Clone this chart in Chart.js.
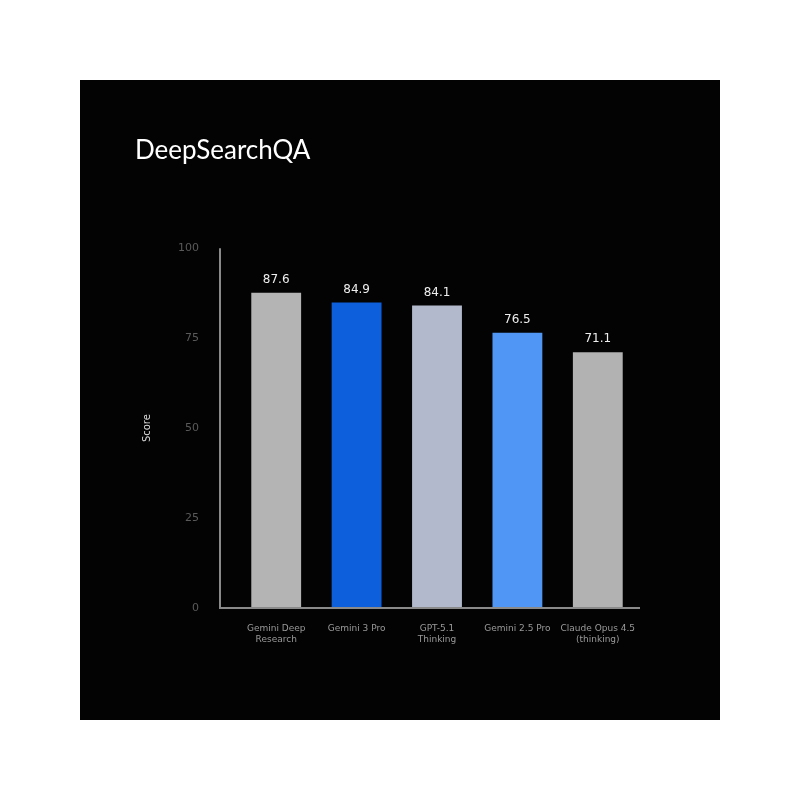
<!DOCTYPE html>
<html>
<head>
<meta charset="utf-8">
<script src="https://cdn.jsdelivr.net/npm/chart.js@4"></script>
<style>
  html, body { margin: 0; padding: 0; background: #ffffff; }
  #panel { position: absolute; left: 80px; top: 80px; width: 640px; height: 640px; background: #030303; }
  #myChart { display: block; }
</style>
</head>
<body>
<div id="panel"><canvas id="myChart" width="640" height="640"></canvas></div>
<script>
let models = [
    ["Gemini Deep", "Research"],
    "Gemini 3 Pro",
    ["GPT-5.1", "Thinking"],
    "Gemini 2.5 Pro",
    ["Claude Opus 4.5", "(thinking)"]
];
let scores = [87.6, 84.9, 84.1, 76.5, 71.1];
let yTicks = [0, 25, 50, 75, 100];

let colors = [
    "#b4b4b4",
    "#0d5fdc",
    "#b3b9cc",
    "#4f96f5",
    "#b2b2b2"
];

// values drawn above every bar
let valueLabels = {
    id: 'valueLabels',
    afterDatasetsDraw(chart) {
        let ctx = chart.ctx;
        let meta = chart.getDatasetMeta(0);
        ctx.save();
        ctx.fillStyle = '#eeeeee';
        ctx.font = '12px "DejaVu Sans"';
        ctx.textAlign = 'center';
        ctx.textBaseline = 'bottom';
        meta.data.forEach(function (bar, i) {
            ctx.fillText(scores[i].toFixed(1), bar.x, bar.y - 7);
        });
        ctx.restore();
    }
};

// axis lines sit a little left of the first bar slot
let axisLines = {
    id: 'axisLines',
    afterDraw(chart) {
        let a = chart.chartArea;
        let ctx = chart.ctx;
        let left = a.left - 16;
        ctx.save();
        ctx.strokeStyle = '#8a8a8a';
        ctx.lineWidth = 2;
        ctx.beginPath();
        ctx.moveTo(left, a.top);
        ctx.lineTo(left, a.bottom);
        ctx.lineTo(a.right + 2, a.bottom);
        ctx.stroke();
        ctx.restore();
    }
};

let canvas = document.getElementById("myChart")
let ctx = canvas.getContext("2d")

let myChart = new Chart(ctx, {
    type: 'bar',
    data: {
        labels: models,
        datasets: [{
            data: scores,
            backgroundColor: colors,
            borderWidth: 0,
            barPercentage: 0.62,
            categoryPercentage: 1.0
        }]
    },
    options: {
        responsive: false,
        animation: false,
        layout: { padding: { left: 55, right: 82, top: 55, bottom: 0 } },
        plugins: {
            legend: { display: false },
            tooltip: { enabled: false },
            title: {
                display: true,
                text: 'DeepSearchQA',
                align: 'start',
                color: '#ffffff',
                font: { family: 'Lato', size: 26, weight: 'normal' },
                padding: { top: 0, bottom: 82 }
            }
        },
        scales: {
            x: {
                grid: { display: false },
                border: { display: false },
                ticks: {
                    color: '#9a9a9a',
                    font: { family: 'DejaVu Sans', size: 9 },
                    maxRotation: 0,
                    padding: 7
                },
                afterFit(scale) { scale.height = 112; }
            },
            y: {
                min: 0,
                max: 100,
                grid: { display: false },
                border: { display: false },
                afterBuildTicks(scale) {
                    scale.ticks = yTicks.map(function (v) { return { value: v }; });
                },
                ticks: {
                    color: '#5a5a5a',
                    font: { family: 'DejaVu Sans', size: 11 },
                    padding: 29
                },
                title: {
                    display: true,
                    text: 'Score',
                    color: '#dddddd',
                    font: { family: 'DejaVu Sans', size: 10 },
                    padding: { top: 6, bottom: 0 }
                },
                afterFit(scale) { scale.width = 101; }
            }
        }
    },
    plugins: [valueLabels, axisLines]
})
</script>
</body>
</html>
